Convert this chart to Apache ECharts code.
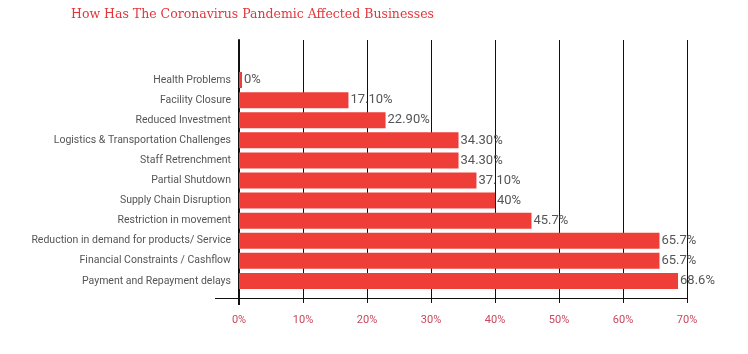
<!DOCTYPE html>
<html>
<head>
<meta charset="utf-8">
<script src="https://cdn.jsdelivr.net/npm/echarts@6/dist/echarts.min.js"></script>
<style>
    html, body { margin: 0; padding: 0; background: #fff; }
    #container { width: 748px; height: 354px; }
</style>
</head>
<body>
<div id="container"></div>
<script>
// 数据
var categories = ['Health Problems', 'Facility Closure', 'Reduced Investment', 'Logistics & Transportation Challenges',
    'Staff Retrenchment', 'Partial Shutdown', 'Supply Chain Disruption', 'Restriction in movement',
    'Reduction in demand for products/ Service', 'Financial Constraints / Cashflow', 'Payment and Repayment delays'];
var values = [0, 17.1, 22.9, 34.3, 34.3, 37.1, 40, 45.7, 65.7, 65.7, 68.6];
var valueLabels = ['0%', '17.10%', '22.90%', '34.30%', '34.30%', '37.10%', '40%', '45.7%', '65.7%', '65.7%', '68.6%'];
var tickValues = [0, 10, 20, 30, 40, 50, 60, 70];

var chart = echarts.init(document.getElementById('container'));
var option = {
    animation: false,
    title: {
        text: 'How Has The Coronavirus Pandemic Affected Businesses',
        left: 66,
        top: 3,
        textStyle: {
            color: '#e2363b',
            fontFamily: 'DejaVu Serif',
            fontWeight: 'normal',
            fontSize: 12.5
        }
    },
    grid: [
        // 网格线和坐标轴
        { left: 239, right: 61, top: 40, bottom: 56 },
        // 条形图
        { left: 239, right: 61, top: 70, bottom: 63 }
    ],
    xAxis: [
        {
            gridIndex: 0,
            type: 'value',
            min: 0,
            max: 70,
            interval: 10,
            axisLine: { show: true, lineStyle: { color: '#111', width: 1 } },
            axisTick: { show: true, length: 5, lineStyle: { color: '#111' } },
            splitLine: { show: true, lineStyle: { color: '#111', width: 1 } },
            axisLabel: {
                color: '#c9465e',
                fontFamily: 'Roboto',
                fontSize: 11,
                margin: 17,
                formatter: function (v) {
                    return tickValues.indexOf(v) >= 0 ? v + '%' : '';
                }
            }
        },
        {
            gridIndex: 1,
            type: 'value',
            min: 0,
            max: 70,
            show: false
        }
    ],
    yAxis: [
        {
            gridIndex: 0,
            type: 'value',
            min: 0,
            max: 1,
            axisLine: { show: true, lineStyle: { color: '#111', width: 2 } },
            axisTick: { show: false },
            axisLabel: { show: false },
            splitLine: { show: false }
        },
        {
            gridIndex: 1,
            type: 'category',
            inverse: true,
            data: categories,
            axisLine: { show: false },
            axisTick: { show: false },
            axisLabel: {
                color: '#555',
                fontFamily: 'Roboto',
                fontSize: 10.5,
                margin: 8
            }
        }
    ],
    graphic: [
        {
            type: 'line',
            shape: { x1: 215, y1: 298.5, x2: 239, y2: 298.5 },
            style: { stroke: '#111', lineWidth: 1 }
        },
        {
            type: 'line',
            shape: { x1: 239, y1: 298, x2: 239, y2: 305 },
            style: { stroke: '#111', lineWidth: 2 }
        }
    ],
    series: [
        {
            type: 'bar',
            xAxisIndex: 1,
            yAxisIndex: 1,
            data: values,
            barWidth: 16,
            barMinHeight: 3,
            itemStyle: { color: '#ef3d37' },
            label: {
                show: true,
                position: 'right',
                distance: 2,
                color: '#555',
                fontFamily: 'Roboto',
                fontSize: 13,
                formatter: function (p) {
                    return valueLabels[p.dataIndex];
                }
            }
        }
    ]
};
chart.setOption(option);
</script>
</body>
</html>
